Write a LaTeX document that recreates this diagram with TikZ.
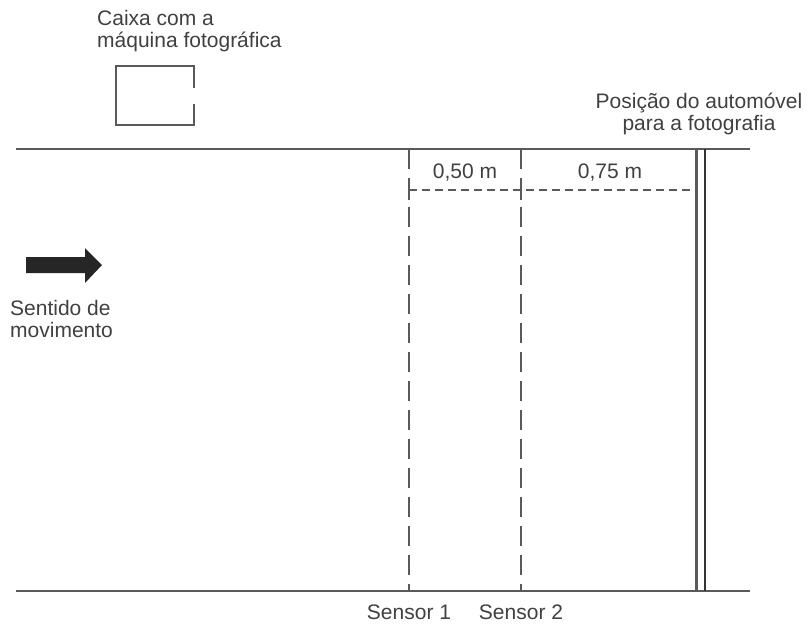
\documentclass[tikz,border=0pt]{standalone}
\usepackage{fontspec}
\setmainfont{Liberation Sans}
\usepackage{tikz}
\definecolor{txtgray}{HTML}{404040}
\definecolor{linegray}{HTML}{5A5A5A}
\tikzset{
  lbl/.style={font=\fontsize{21}{22}\selectfont, text=txtgray, inner sep=0pt},
  road/.style={draw=linegray, line width=2.5pt},
  sensorline/.style={draw=linegray, line width=2pt, dash pattern=on 20pt off 9pt},
  dimline/.style={draw=linegray, line width=2pt, dash pattern=on 8pt off 5pt},
}

\begin{document}
\begin{tikzpicture}[x=1pt,y=-1pt]
\useasboundingbox (0,0) rectangle (809,624);
% road edges
\coordinate (roadTL) at (16,149);
\coordinate (roadTR) at (750,149);
\coordinate (roadBL) at (16,591);
\coordinate (roadBR) at (750,591);
\draw[road] (roadTL) -- (roadTR);
\draw[road] (roadBL) -- (roadBR);
% sensors
\coordinate (sensA) at (409,149);
\coordinate (sensAb) at (409,591);
\coordinate (sensB) at (521,149);
\coordinate (sensBb) at (521,591);
\draw[sensorline] (sensA) -- (sensAb);
\draw[sensorline] (sensB) -- (sensBb);
% photo position (double line)
\coordinate (photoA) at (696,149);
\coordinate (photoAb) at (696,591);
\coordinate (photoB) at (705,149);
\coordinate (photoBb) at (705,591);
\draw[draw=linegray, line width=3pt] (photoA) -- (photoAb);
\draw[draw=black!80, line width=1.6pt] (photoB) -- (photoBb);
% distances
\coordinate (dimA) at (409,190);
\coordinate (dimB) at (521,190);
\coordinate (dimC) at (694,190);
\draw[dimline] (dimA) -- (dimC);
\draw[draw=linegray, line width=2pt] ([yshift=-10pt]dimA) -- ([yshift=11pt]dimA);
\draw[draw=linegray, line width=2pt] ([yshift=-10pt]dimB) -- ([yshift=11pt]dimB);
\node[lbl] (distA) at (465,173) {0,50 m};
\node[lbl] (distB) at (610,173) {0,75 m};
% camera box, open on the right
\draw[draw=linegray, line width=2pt] (194,88) -- (194,66) -- (116,66) -- (116,125) -- (194,125) -- (194,104);
\node[lbl, align=left, anchor=west] (caixa) at (97,31) {Caixa com a\\máquina fotográfica};
\node[lbl, align=center] (posicao) at (699,114) {Posição do automóvel\\para a fotografia};
% direction arrow
\fill[black!85] (26,257) -- (85,257) -- (85,248) -- (102,265) -- (85,283) -- (85,273) -- (26,273) -- cycle;
\node[lbl, align=left, anchor=west] (sentido) at (10,319) {Sentido de\\movimento};
% sensor labels
\node[lbl] (sensor1) at (409,612) {Sensor 1};
\node[lbl] (sensor2) at (521,612) {Sensor 2};
\end{tikzpicture}
\end{document}
